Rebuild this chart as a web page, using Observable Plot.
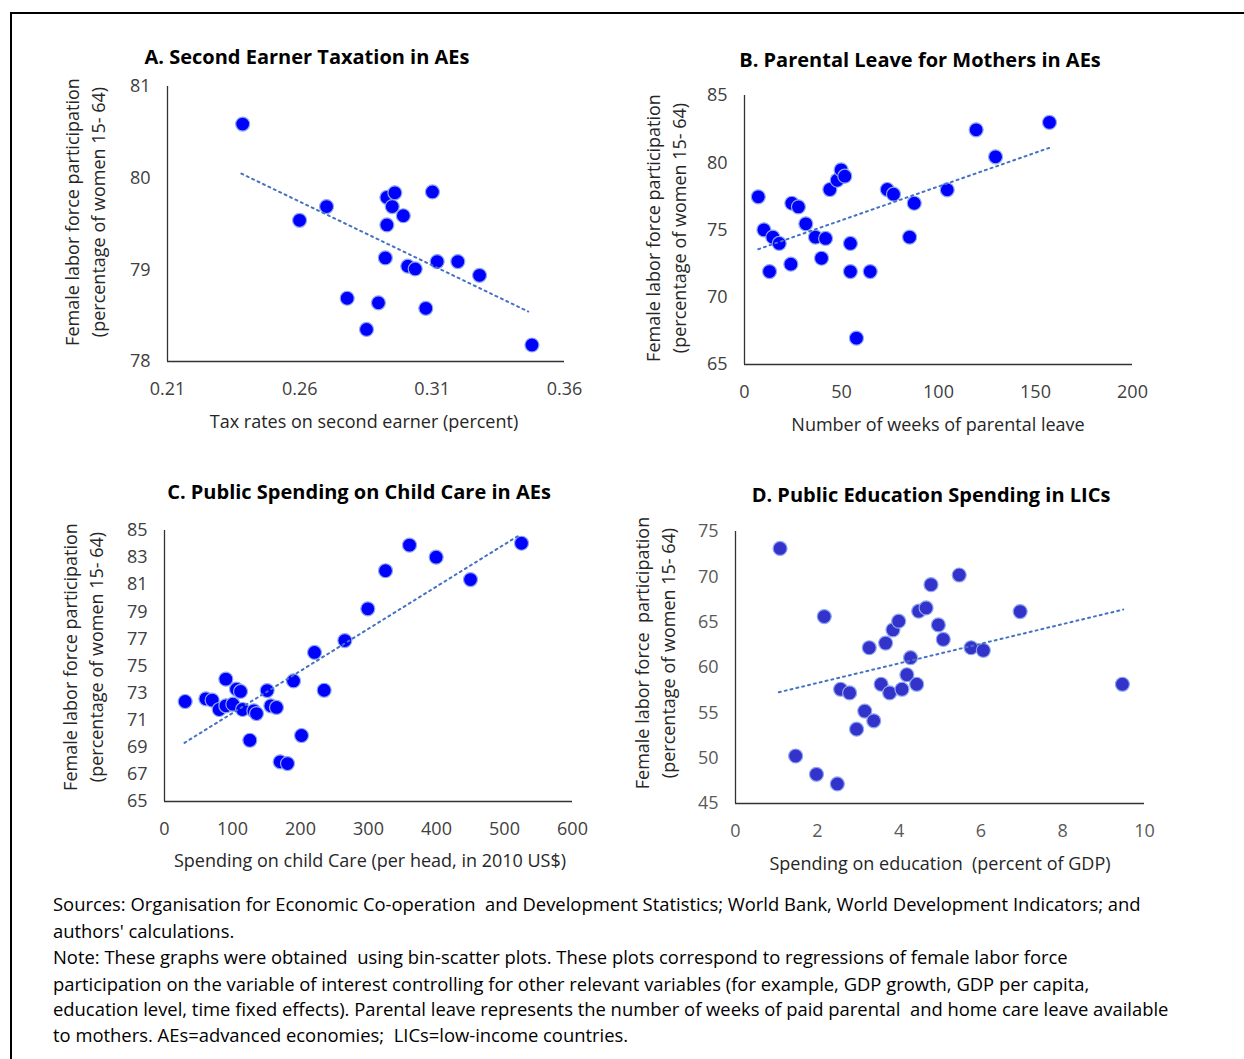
<!DOCTYPE html>
<html>
<head>
<meta charset="utf-8">
<script src="https://cdn.jsdelivr.net/npm/d3@7"></script>
<script src="https://cdn.jsdelivr.net/npm/@observablehq/plot@0.6"></script>
<style>
  html, body { margin: 0; padding: 0; background: #fff; }
  #root { position: relative; width: 1244px; height: 1059px; overflow: hidden; background: #fff;
          font-family: "Open Sans", "Noto Sans", sans-serif; color: #262626; }
  .frame { position: absolute; left: 10px; top: 12px; width: 1300px; height: 1200px;
           border-left: 2px solid #000; border-top: 2px solid #000; }
  .ptitle { position: absolute; font-weight: 700; font-size: 20px; white-space: nowrap;
            transform: translate(-50%, -50%); color: #000; }
  .xtitle { position: absolute; font-size: 18px; white-space: nowrap; transform: translate(-50%, -50%); color: #262626; }
  .ytitle { position: absolute; font-size: 18px; white-space: nowrap; text-align: center; line-height: 26px;
            transform: translate(-50%, -50%) rotate(-90deg); color: #262626; }
  .cap { position: absolute; left: 53px; font-size: 18.4px; white-space: pre; color: #000;
         transform: translateY(-50%); }
  .panel { position: absolute; }
</style>
</head>
<body>
<div id="root"><div class="frame"></div></div>
<script>
// ---------------- data ----------------
const titles = [
  "A. Second Earner Taxation in AEs",
  "B. Parental Leave for Mothers in AEs",
  "C. Public Spending on Child Care in AEs",
  "D. Public Education Spending in LICs"
];
const xTitles = [
  "Tax rates on second earner (percent)",
  "Number of weeks of parental leave",
  "Spending on child Care (per head, in 2010 US$)",
  "Spending on education\u00a0 (percent of GDP)"
];
const yTitlesLine1 = [
  "Female labor force participation",
  "Female labor force participation",
  "Female labor force participation",
  "Female labor force\u00a0 participation"
];
const yTitleLine2 = "(percentage of women 15- 64)";

// Panel A
const aX = [0.2384,0.2599,0.2701,0.2929,0.2959,0.2949,0.2991,0.2929,0.3101,0.2923,0.3008,0.3036,0.3119,0.3197,0.3279,0.2779,0.2897,0.3076,0.2852,0.3477];
const aY = [80.59,79.54,79.69,79.79,79.84,79.69,79.59,79.49,79.85,79.13,79.04,79.01,79.09,79.09,78.94,78.69,78.64,78.58,78.35,78.18];
const aTrendX = [0.2379, 0.3463];
const aTrendY = [80.05, 78.545];
const aXTicks = [0.21, 0.26, 0.31, 0.36];
const aYTicks = [78, 79, 80, 81];

// Panel B
const bX = [7.1,10.0,14.6,17.9,12.9,24.4,27.8,31.6,23.9,36.6,41.8,39.7,44.0,47.8,49.8,51.7,54.6,54.6,64.8,57.7,73.6,76.8,87.5,85.1,104.5,119.4,129.4,157.2];
const bY = [77.47,75.01,74.47,74.0,71.91,76.99,76.72,75.46,72.46,74.47,74.37,72.9,78.01,78.70,79.47,79.0,74.0,71.91,71.91,66.96,78.01,77.66,76.99,74.47,77.99,82.45,80.44,83.0];
const bTrendX = [7.1, 157.6];
const bTrendY = [73.57, 81.13];
const bXTicks = [0, 50, 100, 150, 200];
const bYTicks = [65, 70, 75, 80, 85];

// Panel C
const cX = [30.4,60.8,70.1,80.4,90.2,100.5,90.2,105.9,111.8,114.7,131.4,135.3,125.5,151,156.4,164.7,170.1,180.9,189.7,201.5,234.8,220.6,265.2,299,325,360.3,399.5,450,525];
const cY = [72.38,72.58,72.48,71.79,72.06,72.18,74.03,73.29,73.12,71.79,71.69,71.49,69.52,73.19,72.06,71.94,67.93,67.80,73.9,69.87,73.21,76.0,76.88,79.22,82.03,83.92,83.03,81.38,84.06];
const cTrendX = [29.4, 521];
const cTrendY = [69.33, 84.63];
const cXTicks = [0, 100, 200, 300, 400, 500, 600];
const cYTicks = [65, 67, 69, 71, 73, 75, 77, 79, 81, 83, 85];

// Panel D
const dX = [1.09,2.17,1.47,1.98,2.49,2.57,2.79,2.96,3.16,3.38,3.27,3.67,3.56,3.77,3.85,3.99,4.07,4.19,4.28,4.43,4.48,4.66,4.78,4.96,5.08,5.47,5.76,6.06,6.96,9.46];
const dY = [73.13,65.62,50.24,48.22,47.16,57.6,57.2,53.2,55.19,54.12,62.18,62.69,58.15,57.2,64.15,65.11,57.6,59.2,61.08,58.15,66.21,66.57,69.14,64.7,63.1,70.2,62.18,61.89,66.17,58.15];
const dTrendX = [1.06, 9.48];
const dTrendY = [57.27, 66.39];
const dXTicks = [0, 2, 4, 6, 8, 10];
const dYTicks = [45, 50, 55, 60, 65, 70, 75];

const captionLines = [
  "Sources: Organisation for Economic Co-operation  and Development Statistics; World Bank, World Development Indicators; and",
  "authors' calculations.",
  "Note: These graphs were obtained  using bin-scatter plots. These plots correspond to regressions of female labor force",
  "participation on the variable of interest controlling for other relevant variables (for example, GDP growth, GDP per capita,",
  "education level, time fixed effects). Parental leave represents the number of weeks of paid parental  and home care leave available",
  "to mothers. AEs=advanced economies;  LICs=low-income countries."
];

// ---------------- layout / style ----------------
const FONT = '"Open Sans", "Noto Sans", sans-serif';
const panels = [
  {xs: aX, ys: aY, tx: aTrendX, ty: aTrendY, xt: aXTicks, yt: aYTicks, fmt: d3.format(".2f"),
   area: {l: 167, t: 86, r: 564, b: 361}, fill: "#0000FF", tickColor: "#404040",
   title: [307, 56], xTitle: [364, 421], yTitle: [85, 212]},
  {xs: bX, ys: bY, tx: bTrendX, ty: bTrendY, xt: bXTicks, yt: bYTicks, fmt: d3.format("d"),
   area: {l: 744, t: 95, r: 1132, b: 364}, fill: "#0000FF", tickColor: "#404040",
   title: [920, 59], xTitle: [938, 424], yTitle: [666, 228]},
  {xs: cX, ys: cY, tx: cTrendX, ty: cTrendY, xt: cXTicks, yt: cYTicks, fmt: d3.format("d"),
   area: {l: 164, t: 530, r: 572, b: 801}, fill: "#0000FF", tickColor: "#404040",
   title: [359, 491], xTitle: [370, 860], yTitle: [83, 657]},
  {xs: dX, ys: dY, tx: dTrendX, ty: dTrendY, xt: dXTicks, yt: dYTicks, fmt: d3.format("d"),
   area: {l: 735, t: 531, r: 1144, b: 803}, fill: "#3333CC", tickColor: "#595959",
   title: [931, 494], xTitle: [940, 863], yTitle: [655, 653]}
];

const root = document.getElementById("root");
const mL = 70, mR = 40, mT = 20, mB = 50;

panels.forEach((p, i) => {
  const pts = p.xs.map((x, k) => ({x, y: p.ys[k]}));
  const trend = p.tx.map((x, k) => ({x, y: p.ty[k]}));
  const xDom = [p.xt[0], p.xt[p.xt.length - 1]];
  const yDom = [p.yt[0], p.yt[p.yt.length - 1]];
  const w = p.area.r - p.area.l, h = p.area.b - p.area.t;
  const svg = Plot.plot({
    width: w + mL + mR,
    height: h + mT + mB,
    marginLeft: mL, marginRight: mR, marginTop: mT, marginBottom: mB,
    style: {fontFamily: FONT, fontSize: "18px", color: p.tickColor, background: "transparent", overflow: "visible"},
    x: {domain: xDom, ticks: p.xt, tickFormat: p.fmt, tickSize: 0, tickPadding: 21, label: null},
    y: {domain: yDom, ticks: p.yt, tickFormat: d3.format("d"), tickSize: 0, tickPadding: 17, label: null},
    marks: [
      Plot.dot(pts, {x: "x", y: "y", r: 7, fill: p.fill, stroke: "#8fa8f0", strokeWidth: 1.2}),
      Plot.line(trend, {x: "x", y: "y", stroke: "#4472C4", strokeWidth: 2, strokeDasharray: "2,4"}),
      Plot.ruleX([xDom[0]], {stroke: "#333", strokeWidth: 1.3}),
      Plot.ruleY([yDom[0]], {stroke: "#333", strokeWidth: 1.3})
    ]
  });
  svg.classList.add("panel");
  svg.style.left = (p.area.l - mL) + "px";
  svg.style.top = (p.area.t - mT) + "px";
  root.appendChild(svg);

  const t = document.createElement("div");
  t.className = "ptitle"; t.textContent = titles[i];
  t.style.left = p.title[0] + "px"; t.style.top = p.title[1] + "px";
  root.appendChild(t);

  const xt = document.createElement("div");
  xt.className = "xtitle"; xt.textContent = xTitles[i];
  xt.style.left = p.xTitle[0] + "px"; xt.style.top = p.xTitle[1] + "px";
  root.appendChild(xt);

  const yt = document.createElement("div");
  yt.className = "ytitle";
  const l1 = document.createElement("div"); l1.textContent = yTitlesLine1[i];
  const l2 = document.createElement("div"); l2.textContent = yTitleLine2;
  yt.appendChild(l1); yt.appendChild(l2);
  yt.style.left = p.yTitle[0] + "px"; yt.style.top = p.yTitle[1] + "px";
  root.appendChild(yt);
});

const capY = [903, 930, 956, 983, 1008, 1034];
captionLines.forEach((line, k) => {
  const c = document.createElement("div");
  c.className = "cap"; c.textContent = line;
  c.style.top = capY[k] + "px";
  root.appendChild(c);
});
</script>
</body>
</html>
